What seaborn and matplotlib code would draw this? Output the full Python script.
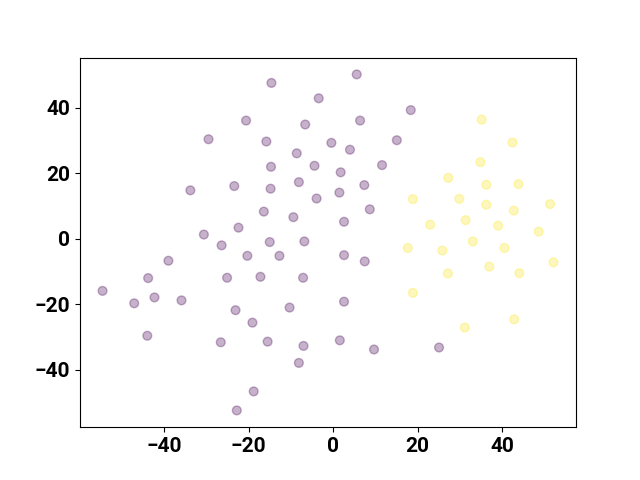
import numpy as np
import pandas as pd
import matplotlib
matplotlib.use("Agg")
import matplotlib.pyplot as plt
import seaborn as sns

# Embedded 2D coordinates, cluster 0 (purple)
x0 = [-14.6, -3.4, -20.6, -6.6, -29.5, -15.8, -0.4, -8.6, -14.7, -4.4,
      -33.8, -23.4, -14.8, -8.1, -3.9, -16.4, -9.4, -30.6, -22.4, -26.4,
      -15.0, -6.8, 5.6, 18.4, 6.4, 4.0, 15.1, 11.6, 1.8, 7.4,
      1.5, 8.7, 2.6, 2.6, 7.5, 2.6, 1.6, 9.7, 25.1, -39.0,
      -20.3, -12.7, -43.8, -25.1, -17.2, -7.1, -54.6, -47.1, -42.3, -35.9,
      -23.1, -10.3, -19.1, -44.0, -26.6, -15.5, -7.0, -8.1, -18.8, -22.8]
y0 = [47.6, 42.9, 36.1, 34.9, 30.4, 29.7, 29.3, 26.1, 22.0, 22.3,
      14.8, 16.1, 15.3, 17.3, 12.3, 8.3, 6.6, 1.3, 3.4, -2.0,
      -1.0, -0.8, 50.2, 39.3, 36.1, 27.2, 30.1, 22.5, 20.3, 16.4,
      14.1, 9.0, 5.2, -5.0, -6.9, -19.2, -31.0, -33.8, -33.2, -6.7,
      -5.2, -5.2, -12.0, -11.9, -11.6, -11.9, -15.9, -19.7, -17.9, -18.8,
      -21.8, -21.0, -25.6, -29.6, -31.6, -31.4, -32.7, -37.9, -46.6, -52.4]

# cluster 1 (yellow)
x1 = [35.2, 42.5, 34.9, 27.3, 36.3, 43.9, 18.9, 29.9, 36.3, 42.8,
      51.4, 23.0, 31.4, 39.1, 48.7, 33.1, 17.7, 25.9, 40.6, 37.0,
      27.2, 44.1, 52.2, 18.9, 42.9, 31.2]
y1 = [36.4, 29.4, 23.4, 18.6, 16.5, 16.7, 12.1, 12.2, 10.4, 8.6,
      10.6, 4.3, 5.7, 4.0, 2.2, -0.8, -2.8, -3.6, -2.8, -8.5,
      -10.6, -10.5, -7.2, -16.5, -24.6, -27.1]

df = pd.DataFrame({
    "x": x0 + x1,
    "y": y0 + y1,
    "label": [0] * len(x0) + [1] * len(x1),
})

# viridis end colours
palette = {0: "#440154", 1: "#fde725"}

fig, ax = plt.subplots(figsize=(6.4, 4.8), dpi=100)
sns.scatterplot(data=df, x="x", y="y", hue="label", palette=palette,
                s=40, alpha=0.3, edgecolor="face", linewidth=1.0,
                legend=False, ax=ax)
ax.set_xlabel("")
ax.set_ylabel("")
for lab in ax.get_xticklabels() + ax.get_yticklabels():
    lab.set_fontsize(15)
    lab.set_fontweight("bold")
    lab.set_family("Roboto")

plt.savefig("out.png", dpi=100)
